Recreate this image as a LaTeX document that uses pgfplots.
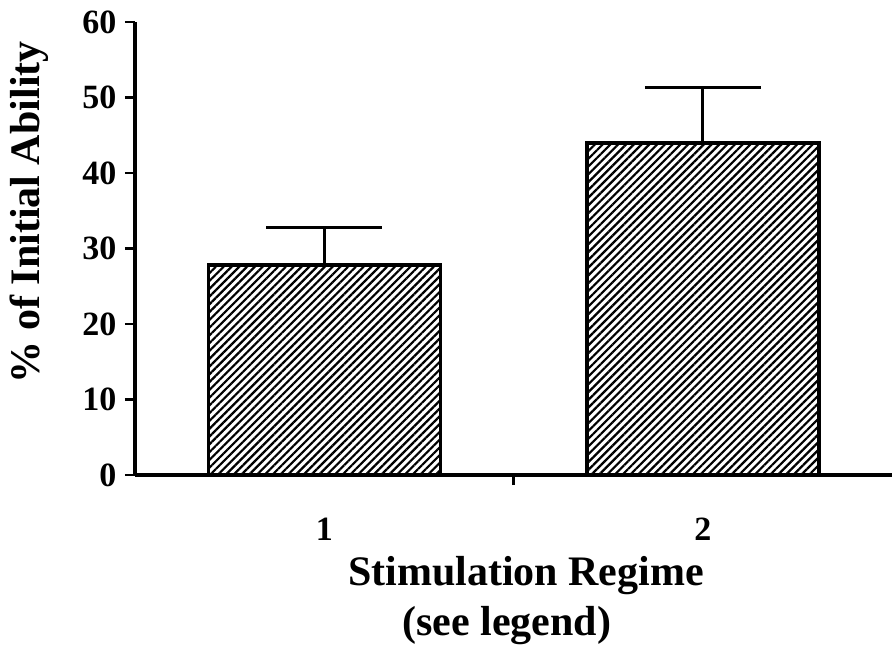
\documentclass[border=0pt]{standalone}
\usepackage{pgfplots}
\pgfplotsset{compat=1.18}
\usetikzlibrary{patterns.meta}
\usepackage{fontspec}
\setmainfont{Liberation Serif}
\begin{document}
\begin{tikzpicture}
\useasboundingbox (0,0) rectangle (892bp,646bp);
\begin{axis}[
 at={(135bp,171bp)}, anchor=south west,
 scale only axis, width=757bp, height=453bp,
 xmin=0.5, xmax=2.5, ymin=0, ymax=60,
 axis x line*=bottom, axis y line*=left,
 axis line style={line width=3bp},
 ytick={0,10,...,60},
 xtick={1.5}, xticklabels={},
 tick align=outside, major tick length=10bp,
 tick style={line width=2.5bp, black},
 yticklabel style={font=\fontsize{34bp}{34bp}\selectfont\bfseries, xshift=-5bp},
 /pgf/number format/assume math mode=true,
 ylabel={\% of Initial Ability},
 ylabel style={at={(axis description cs:-0.14,0.58)}, anchor=center, font=\fontsize{42bp}{42bp}\selectfont\bfseries},
 xlabel={Stimulation Regime},
 xlabel style={at={(axis description cs:0.5165,-0.243)}, anchor=base, font=\fontsize{42bp}{42bp}\selectfont\bfseries},
 clip=false,
]
\addplot[ybar, bar width=232bp, bar shift=0pt, draw=black, line width=3.5bp,
  pattern={Lines[angle=45,distance=5.5bp,line width=2.2bp]}, pattern color=black,
  error bars/.cd, y dir=plus, y explicit,
  error bar style={line width=3bp, black},
  error mark options={rotate=90, mark size=58bp, line width=3bp, black}]
 coordinates {(1,27.8) +- (0,5.0) (2,44.0) +- (0,7.3)};
\node[font=\fontsize{34bp}{34bp}\selectfont\bfseries] at (axis cs:1,0) [yshift=-54bp] {1};
\node[font=\fontsize{34bp}{34bp}\selectfont\bfseries] at (axis cs:2,0) [yshift=-54bp] {2};
\node[font=\fontsize{42bp}{42bp}\selectfont\bfseries, anchor=base] at (axis description cs:0.491,-0.355) {(see legend)};
\end{axis}
\end{tikzpicture}
\end{document}
